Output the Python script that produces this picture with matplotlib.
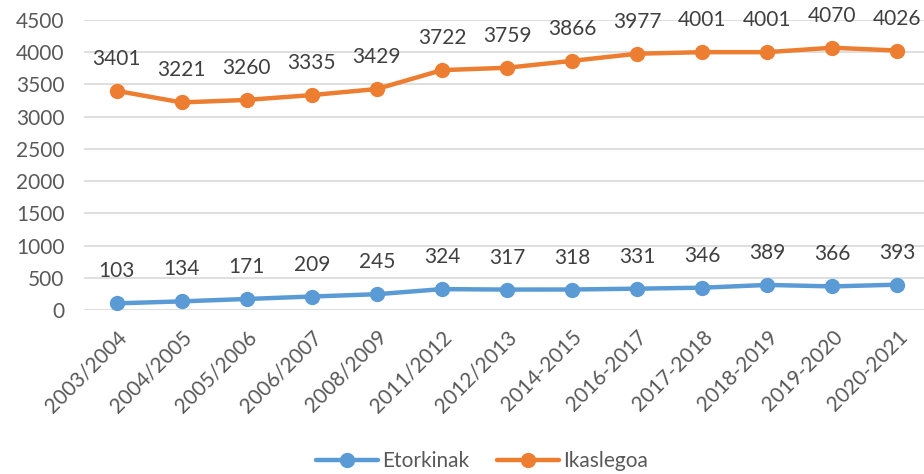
import matplotlib.pyplot as plt

years = ["2003/2004", "2004/2005", "2005/2006", "2006/2007", "2008/2009",
         "2011/2012", "2012/2013", "2014-2015", "2016-2017", "2017-2018",
         "2018-2019", "2019-2020", "2020-2021"]
etorkinak = [103, 134, 171, 209, 245, 324, 317, 318, 331, 346, 389, 366, 393]
ikaslegoa = [3401, 3221, 3260, 3335, 3429, 3722, 3759, 3866, 3977, 4001, 4001, 4070, 4026]

plt.rcParams["font.family"] = ["Lato", "DejaVu Sans"]

fig = plt.figure(figsize=(9.24, 4.74), dpi=100)
ax = fig.add_axes([84 / 924, 164 / 474, 846 / 924, 290 / 474])

x = list(range(len(years)))
blue = "#5B9BD5"
orange = "#ED7D31"
ax.plot(x, etorkinak, color=blue, lw=3.2, marker="o", ms=10, label="Etorkinak",
        solid_capstyle="round")
ax.plot(x, ikaslegoa, color=orange, lw=3.2, marker="o", ms=10, label="Ikaslegoa",
        solid_capstyle="round")

for xi, v in zip(x, etorkinak):
    ax.annotate(str(v), (xi, v), xytext=(0, 23), textcoords="offset points",
                ha="center", va="center", fontsize=15, color="#404040")
for xi, v in zip(x, ikaslegoa):
    ax.annotate(str(v), (xi, v), xytext=(0, 23), textcoords="offset points",
                ha="center", va="center", fontsize=15, color="#404040")

ax.set_xlim(-0.5, len(years) - 0.5)
ax.set_ylim(0, 4500)
ax.set_yticks(range(0, 4501, 500))
ax.set_xticks(x)
ax.set_xticklabels(years, rotation=45, ha="right", va="top", rotation_mode="anchor")
ax.tick_params(axis="both", length=0, labelsize=15, labelcolor="#595959")
ax.tick_params(axis="y", pad=14)
ax.tick_params(axis="x", pad=12)
ax.grid(axis="y", color="#D9D9D9", lw=1.2)
ax.set_axisbelow(True)
for s in ax.spines.values():
    s.set_visible(False)

fig.legend(loc="center", bbox_to_anchor=(482 / 924, 1 - 461 / 474), ncol=2,
           frameon=False, fontsize=15, labelcolor="#595959",
           handlelength=3.0, columnspacing=1.3, handletextpad=0.2)

fig.savefig("out.png", dpi=100)
